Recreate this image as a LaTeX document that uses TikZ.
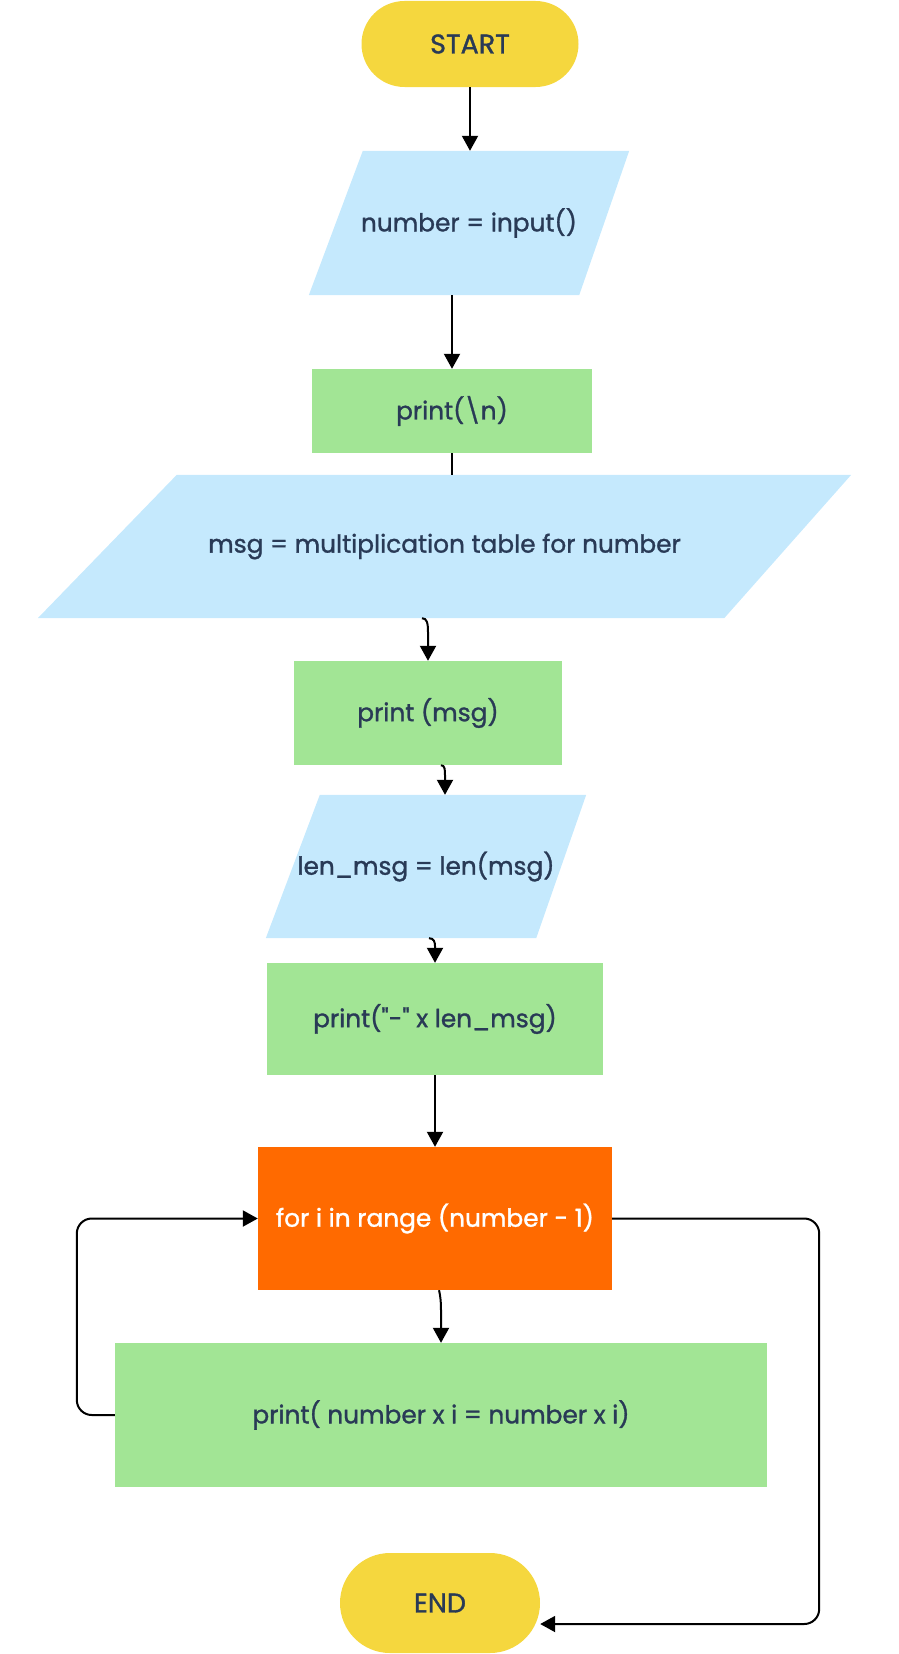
\documentclass[tikz,border=0pt]{standalone}
\usepackage{fontspec}
\setmainfont{Poppins}
\newfontfamily\medfont{Poppins}[FakeBold=1.2]
\usetikzlibrary{arrows.meta,backgrounds,calc}
\definecolor{yel}{RGB}{245,215,62}
\definecolor{lblue}{RGB}{197,233,253}
\definecolor{lgreen}{RGB}{162,229,149}
\definecolor{orng}{RGB}{255,106,0}
\definecolor{navy}{RGB}{41,58,86}
\tikzset{
  base/.style={inner sep=0pt, font=\medfont\fontsize{24.8}{28}\selectfont, text=navy},
  term/.style={base, fill=yel, font=\medfont\fontsize{27}{30}\selectfont},
  iobox/.style={base, rectangle},
  procbox/.style={base, fill=lgreen},
  loopbox/.style={base, fill=orng, text=white},
  arr/.style={line width=2pt, -{Triangle[width=16pt,length=15pt]}},
  conn/.style={line width=2pt},
  iofill/.style={fill=lblue},
}
\begin{document}
\begin{tikzpicture}[x=1pt,y=-1pt]
\useasboundingbox (0,0) rectangle (898,1654);
% nodes
\node[term, minimum width=217pt, minimum height=86pt, rounded corners=43pt] (start) at (470,44) {START};
\node[iobox, minimum width=320pt, minimum height=144pt] (input) at (469,223) {number = input()};
\node[procbox, minimum width=280pt, minimum height=84pt] (p1) at (452,411) {print(\textbackslash n)};
\node[iobox, minimum width=813pt, minimum height=143pt] (msg) at (444.5,546.5) {msg = multiplication table for number};
\node[procbox, minimum width=268pt, minimum height=104pt] (pmsg) at (428,713) {print (msg)};
\node[iobox, minimum width=320pt, minimum height=143pt] (len) at (426,866.5) {len\_msg = len(msg)};
\node[procbox, minimum width=336pt, minimum height=112pt] (p2) at (435,1019) {print(\char"22-\char"22{} x len\_msg)};
\node[loopbox, minimum width=354pt, minimum height=143pt] (for) at (435,1218.5) {for i in range (number - 1)};
\node[procbox, minimum width=652pt, minimum height=144pt] (p3) at (441,1415) {print( number x i = number x i)};
\node[term, minimum width=200pt, minimum height=100pt, rounded corners=50pt] (end) at (440,1603) {END};
% parallelogram fills
\begin{scope}[on background layer]
  \fill[iofill] ([xshift=54pt]input.north west) -- (input.north east) -- ([xshift=-50pt]input.south east) -- (input.south west) -- cycle;
  \fill[iofill] ([xshift=139pt]msg.north west) -- (msg.north east) -- ([xshift=-127pt]msg.south east) -- (msg.south west) -- cycle;
  \fill[iofill] ([xshift=54pt]len.north west) -- (len.north east) -- ([xshift=-50pt]len.south east) -- (len.south west) -- cycle;
\end{scope}
% connectors
\draw[arr] (start.south) -- (start.south |- input.north);
\draw[arr] (p1.north |- input.south) -- (p1.north);
\draw[conn] (p1.south) -- (p1.south |- msg.north);
\draw[arr] ($(pmsg.north |- msg.south)+(-6,0)$) .. controls +(5,0) and +(0,-9) .. ($(pmsg.north |- msg.south)+(0,14)$) -- (pmsg.north);
\draw[arr] ($(pmsg.south)+(13,0)$) .. controls +(4,0) and +(0,-5) .. ($(pmsg.south)+(17,10)$) -- ($(len.north)+(19,0)$);
\draw[arr] ($(p2.north |- len.south)+(-6,0)$) .. controls +(5,0) and +(0,-4) .. ($(p2.north |- len.south)+(0,8)$) -- (p2.north);
\draw[arr] (p2.south) -- (for.north);
\draw[arr] ($(p3.north |- for.south)+(-2,0)$) .. controls +(1,4) and +(0,-10) .. ($(p3.north |- for.south)+(0,20)$) -- (p3.north);
\draw[arr, rounded corners=15pt] (p3.west) -- ++(-38,0) |- (for.west);
\draw[arr, rounded corners=15pt] (for.east) -- ++(207,0) |- ($(end.east)+(0,21)$);
\end{tikzpicture}
\end{document}
